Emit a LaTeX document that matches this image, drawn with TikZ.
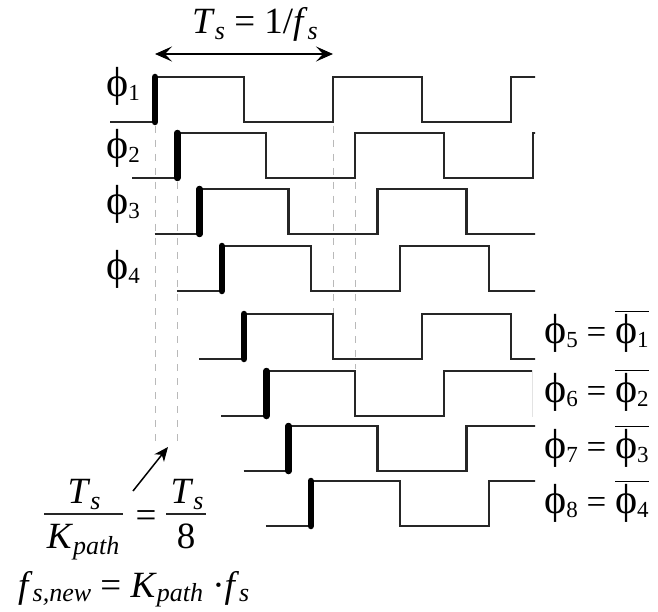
\documentclass[tikz,border=0pt]{standalone}
\usepackage{fontspec}
\setmainfont{Liberation Serif}
\usetikzlibrary{arrows.meta}
\newcommand\phisub[1]{\raisebox{-4pt}{\fontsize{23}{23}\selectfont #1}}
\newcommand\isub[1]{\raisebox{-6pt}{\fontsize{26}{26}\selectfont\itshape #1}}
\newcommand\lsub[1]{\raisebox{-4pt}{\fontsize{26}{26}\selectfont\itshape #1}}
\newcommand\bigtxt{\fontsize{37}{40}\selectfont}
\newcommand\phitxt{\fontsize{35}{40}\selectfont}
\newcommand\ph{{\fontsize{42}{42}\selectfont ϕ}}
\newcommand\ovl[1]{\leavevmode\vbox{\hrule height 1.6pt\kern 1.5pt\hbox{#1}}}
\tikzset{
  wave/.style={line width=2.3pt, line join=miter, black!85},
  edgebar/.style={line width=6.5pt, line cap=round, black},
  guide/.style={gray!55, line width=0.8pt, dash pattern=on 7pt off 7pt},
  lbl/.style={inner sep=0pt, font=\phitxt},
  eqn/.style={inner sep=0pt, font=\bigtxt},
  fracbar/.style={line width=1.8pt, black!85},
}
\begin{document}
\begin{tikzpicture}[x=1pt,y=-1pt]
\useasboundingbox[fill=white] (0,0) rectangle (658,612);
% guide dashed lines
\draw[guide] (155,126) -- (155,447);
\draw[guide] (177.25,182) -- (177.25,447);
\draw[guide] (333,126) -- (333,313);
\draw[guide] (355.25,182) -- (355.25,369);
% waveforms
\foreach \k/\yh/\ex in {0/77/535, 1/133/535, 2/189/535, 3/246/535, 4/314/535, 5/371/532, 6/426/535, 7/481/535} {
  \pgfmathsetmacro\r{155+22.25*\k}
  \begin{scope}
    \clip (0,0) rectangle (\ex,612);
    \draw[wave] (\r-45,\yh+45) -- (\r,\yh+45) -- (\r,\yh) -- ++(89,0) -- ++(0,45) -- ++(89,0) -- ++(0,-45) -- ++(89,0) -- ++(0,45) -- ++(89,0) -- ++(0,-45) -- ++(89,0);
  \end{scope}
  \draw[edgebar] (\r,\yh+45) -- (\r,\yh);
}
% period arrow
\coordinate (pa) at (155,54);
\coordinate (pb) at (333,54);
\draw[line width=1.3pt, {Stealth[length=17pt,width=15pt,inset=7pt]}-{Stealth[length=17pt,width=15pt,inset=7pt]}] (pa) -- (pb);
\node[eqn, anchor=base] (per) at (255,34) {\textit{T}\isub{s} = 1/\textit{f}\isub{s}};
% left labels
\node[lbl, anchor=base west] (l1) at (106,97) {\ph\phisub{1}};
\node[lbl, anchor=base west] (l2) at (106,159) {\ph\phisub{2}};
\node[lbl, anchor=base west] (l3) at (106,215) {\ph\phisub{3}};
\node[lbl, anchor=base west] (l4) at (106,279) {\ph\phisub{4}};
% right labels
\node[lbl, anchor=base west] (r5) at (544,343) {\ph\phisub{5} = \ovl{\ph\phisub{1}}};
\node[lbl, anchor=base west] (r6) at (544,402) {\ph\phisub{6} = \ovl{\ph\phisub{2}}};
\node[lbl, anchor=base west] (r7) at (544,458) {\ph\phisub{7} = \ovl{\ph\phisub{3}}};
\node[lbl, anchor=base west] (r8) at (544,513) {\ph\phisub{8} = \ovl{\ph\phisub{4}}};
% fraction
\node[eqn, anchor=base] (n1) at (84,503) {\textit{T}\isub{s}};
\node[eqn, anchor=base] (d1) at (83,548) {\textit{K}\isub{path}};
\draw[fracbar] (44,514) -- (123,514);
\node[eqn, anchor=base] (eq1) at (146,527) {=};
\node[eqn, anchor=base] (n2) at (187,503) {\textit{T}\isub{s}};
\node[eqn, anchor=base] (d2) at (186,548) {8};
\draw[fracbar] (166,514) -- (206,514);
% small arrow
\coordinate (sa) at (133,491);
\coordinate (sb) at (168,447);
\draw[line width=1.5pt, -{Stealth[length=14pt,width=12pt,inset=4pt]}] (sa) -- (sb);
% bottom formula
\node[eqn, anchor=base west] (fn) at (18,597) {\textit{f}\lsub{s,new} = \textit{K}\lsub{path} ·\textit{f}\lsub{s}};
\end{tikzpicture}
\end{document}
